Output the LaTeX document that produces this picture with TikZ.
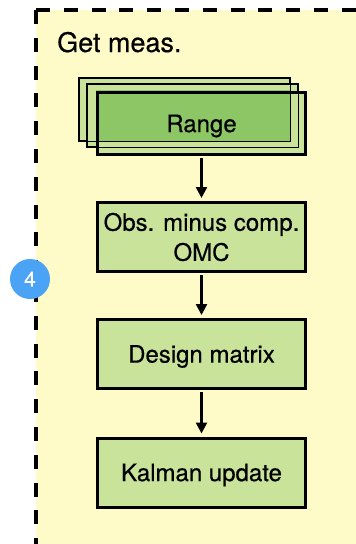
\documentclass[tikz,border=0pt]{standalone}
\usepackage{fontspec}
\setmainfont{TeX Gyre Heros}[FakeBold=0.5]
\usetikzlibrary{arrows.meta}

\definecolor{panelyellow}{HTML}{FFFBC8}
\definecolor{boxgreen}{HTML}{C9E39B}
\definecolor{deepgreen}{HTML}{8DC665}
\definecolor{badgeblue}{HTML}{4AA3F5}

\tikzset{
  box/.style={draw=black, line width=3pt, fill=boxgreen,
    minimum width=208pt, minimum height=69pt, inner sep=0pt,
    align=center, font=\fontsize{24}{30}\selectfont},
  oneline/.style={text height=17.2pt, text depth=0pt},
  stackbox/.style={draw=black, line width=1.4pt, fill=boxgreen,
    minimum width=211pt, minimum height=62pt, inner sep=0pt},
  flow/.style={draw=black, line width=2.5pt,
    -{Triangle[width=11pt,length=11pt]}, shorten <=2pt, shorten >=3pt},
}

\begin{document}
\begin{tikzpicture}[x=1pt, y=-1pt]
  \useasboundingbox (0,0) rectangle (356,544);
  \clip (0,0) rectangle (356,544);

  % yellow panel with dashed frame (left and top edges visible)
  \fill[panelyellow] (36,10) rectangle (370,560);
  \draw[line width=3.2pt, dash pattern=on 14pt off 13.8pt] (36,10) -- (370,10);
  \draw[line width=3.2pt, dash pattern=on 14pt off 13.8pt] (36,10) -- (36,560);

  % panel title
  \node[anchor=base west, inner sep=0pt, font=\fontsize{27}{32}\selectfont]
    (title) at (57,52) {Get meas.};

  % stacked "Range" cards
  \node[stackbox] (rangeback) at (184.5,109.5) {};
  \node[stackbox] (rangemid)  at (192.5,115.5) {};
  \node[stackbox, draw=none, minimum height=63pt] (rangefront) at (201.5,122.5) {};
  \fill[deepgreen] (96,90) rectangle (290.5,140.5);
  \draw[line width=1.4pt] (rangeback.north west) rectangle (rangeback.south east);
  \draw[line width=1.4pt] (rangemid.north west) rectangle (rangemid.south east);
  \node[draw=black, line width=3pt, minimum width=208pt, minimum height=62pt,
        inner sep=0pt, oneline, font=\fontsize{24}{30}\selectfont]
    (range) at (201.5,123.5) {Range};

  % processing chain
  \node[box, yshift=-1pt] (omc) at (201.5,236) {Obs. minus comp.\\OMC};
  \node[box, oneline] (design) at (201.5,354)   {Design matrix};
  \node[box, oneline] (kalman) at (201.5,472.5) {Kalman update};

  \draw[flow] (range.south)  -- (omc.north);
  \draw[flow] (omc.south)    -- (design.north);
  \draw[flow] (design.south) -- (kalman.north);

  % step badge
  \node[circle, fill=badgeblue, minimum size=40pt, inner sep=0pt,
        text=white, font=\fontsize{21}{24}\selectfont]
    (badge) at (30,279) {4};
\end{tikzpicture}
\end{document}
